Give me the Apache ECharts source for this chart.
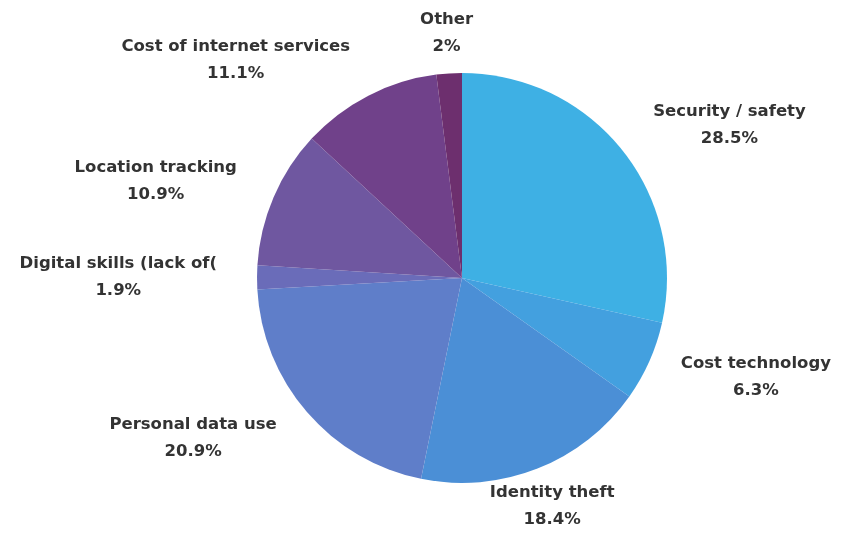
<!DOCTYPE html>
<html>
<head>
<meta charset="utf-8">
<script src="https://cdn.jsdelivr.net/npm/echarts@6/dist/echarts.min.js"></script>
<style>
  html, body { margin: 0; padding: 0; background: #fff; }
  #chart { width: 848px; height: 533px; }
</style>
</head>
<body>
<div id="chart"></div>
<script>
// Concerns about going online, share of respondents (%)
const categories = [
  'Security / safety',
  'Cost technology',
  'Identity theft',
  'Personal data use',
  'Digital skills (lack of(',
  'Location tracking',
  'Cost of internet services',
  'Other'
];
const shares = [28.5, 6.3, 18.4, 20.9, 1.9, 10.9, 11.1, 2];
const sliceColors = [
  '#3eb0e4', '#43a0df', '#4b8fd6', '#5f7ec9',
  '#6a6cb9', '#6f57a0', '#70418a', '#6d2f6e'
];

const CX = 462, CY = 278, RADIUS = 205, LABEL_R = 245;
const total = shares.reduce((a, b) => a + b, 0);

// mid-angle of each slice, measured clockwise from 12 o'clock
const midAngles = [];
let acc = 0;
shares.forEach(v => {
  midAngles.push(((acc + v / 2) / total) * Math.PI * 2);
  acc += v;
});

const chart = echarts.init(document.getElementById('chart'), null, { renderer: 'canvas' });
chart.setOption({
  animation: false,
  series: [{
    type: 'pie',
    center: [CX, CY],
    radius: RADIUS,
    startAngle: 90,
    clockwise: true,
    data: categories.map((name, i) => ({
      name, value: shares[i], itemStyle: { color: sliceColors[i] }
    })),
    label: {
      show: true,
      position: 'outside',
      overflow: 'none',
      formatter: p => '{t|' + p.name + '}\n{t|' + p.value + '%}',
      rich: {
        t: {
          fontFamily: 'DejaVu Sans, sans-serif',
          fontWeight: 'bold',
          fontSize: 16.5,
          color: '#333333',
          lineHeight: 27,
          align: 'center'
        }
      }
    },
    labelLine: { show: false },
    labelLayout: params => {
      const a = midAngles[params.dataIndex];
      const dx = Math.sin(a), dy = -Math.cos(a);
      const align = dx > 0.4 ? 'left' : (dx < -0.4 ? 'right' : 'center');
      return {
        x: CX + dx * LABEL_R,
        y: CY + dy * LABEL_R,
        align,
        verticalAlign: 'middle'
      };
    },
    emphasis: { disabled: true }
  }]
});
</script>
</body>
</html>
